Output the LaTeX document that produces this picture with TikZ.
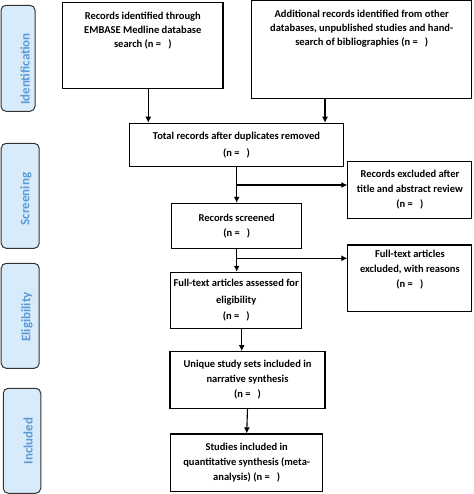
\documentclass[tikz,border=0pt]{standalone}
\usepackage{fontspec}
\setmainfont{Carlito}
\usetikzlibrary{arrows.meta,calc}
\definecolor{sidefill}{HTML}{D8EBFB}
\definecolor{sidetext}{HTML}{5B9BD5}
\definecolor{sideedge}{HTML}{333333}
\newcommand{\topbox}[4]{\parbox[c][#1pt][t]{#2pt}{\centering\vspace*{#3pt}#4}}
\begin{document}
\begin{tikzpicture}[x=1pt,y=-1pt,
  box/.style={draw, line width=1.1pt, align=center, inner sep=0pt,
    font=\fontsize{10.5}{15}\selectfont\bfseries},
  topb/.style={draw, line width=1.1pt, inner sep=0pt,
    font=\fontsize{10.5}{14}\selectfont\bfseries},
  side/.style={draw=sideedge, fill=sidefill, line width=1pt, rounded corners=5pt, inner sep=0pt},
  sidelabel/.style={rotate=90, text=sidetext, font=\fontsize{13}{15}\selectfont\bfseries},
  arr/.style={line width=1.1pt, -{Latex[length=6pt,width=6pt]}}]
\useasboundingbox (0,0) rectangle (473,494);

% side phase labels
\node[side, minimum width=34pt, minimum height=106pt] (sid) at (18,58.3) {};
\node[sidelabel] (sidt) at (25,69) {Identification};
\node[side, minimum width=38pt, minimum height=105pt] (sscr) at (20.2,195.8) {};
\node[sidelabel] (sscrt) at (26,199) {Screening};
\node[side, minimum width=38pt, minimum height=105pt] (selg) at (20.2,315.8) {};
\node[sidelabel] (selgt) at (27,317) {Eligibility};
\node[side, minimum width=37.5pt, minimum height=105pt] (sinc) at (22,440.8) {};
\node[sidelabel] (sinct) at (28,441) {Included};

% boxes
\node[topb] (b1) at (142.8,45.5) {\topbox{85.6}{160.3}{9}{Records identified through\\EMBASE Medline database\\search (n =\ \ \ )}};
\node[topb] (b2) at (361.7,49.3) {\topbox{97.8}{220}{10}{Additional records identified from other\\databases, unpublished studies and hand-\\search of bibliographies (n =\ \ \ )}};
\node[box, minimum width=214pt, minimum height=43.4pt, font=\fontsize{10.5}{16.5}\selectfont\bfseries] (b3) at (236.5,145) {Total records after duplicates removed\\(n =\ \ \ )};
\node[box, minimum width=124pt, minimum height=56.5pt] (ex1) at (409.9,190) {Records excluded after\\title and abstract review\\(n =\ \ \ )};
\node[box, minimum width=130pt, minimum height=45pt] (scr) at (236.7,225.8) {Records screened\\(n =\ \ \ )};
\node[box, minimum width=124pt, minimum height=66.7pt] (ex2) at (409.9,278.3) {Full-text articles\\excluded, with reasons\\(n =\ \ \ )\\[3pt]};
\node[box, minimum width=131pt, minimum height=56pt, font=\fontsize{10.5}{16.5}\selectfont\bfseries] (ass) at (236.2,300.3) {Full-text articles assessed for\\eligibility\\(n =\ \ \ )};
\node[box, minimum width=155pt, minimum height=56.7pt] (uni) at (247.5,380) {Unique study sets included in\\narrative synthesis\\(n =\ \ \ )};
\node[box, minimum width=152pt, minimum height=57.7pt] (stu) at (246.7,462.8) {Studies included in\\quantitative synthesis (meta-\\analysis) (n =\ \ \ )};

% helper coordinates
\coordinate (xa) at (148.3,0);
\coordinate (xb) at (325,0);
\coordinate (xc) at (241.7,0);
\coordinate (br1) at (236.7,185);
\coordinate (br2) at (236.7,258.3);

% connectors
\draw[arr] (b1.south -| xa) -- (b3.north -| xa);
\draw[arr] (b2.south -| xb) -- (b3.north -| xb);
\draw[arr] (b3.south -| br1) -- (scr.north -| br1);
\draw[arr] (br1) -- (br1 -| ex1.west);
\draw[arr] (scr.south -| br2) -- (ass.north -| br2);
\draw[arr] (br2) -- (br2 -| ex2.west);
\draw[arr] (ass.south -| xc) -- (uni.north -| xc);
\draw[arr] (uni.south) -- (stu.north);
\end{tikzpicture}
\end{document}
